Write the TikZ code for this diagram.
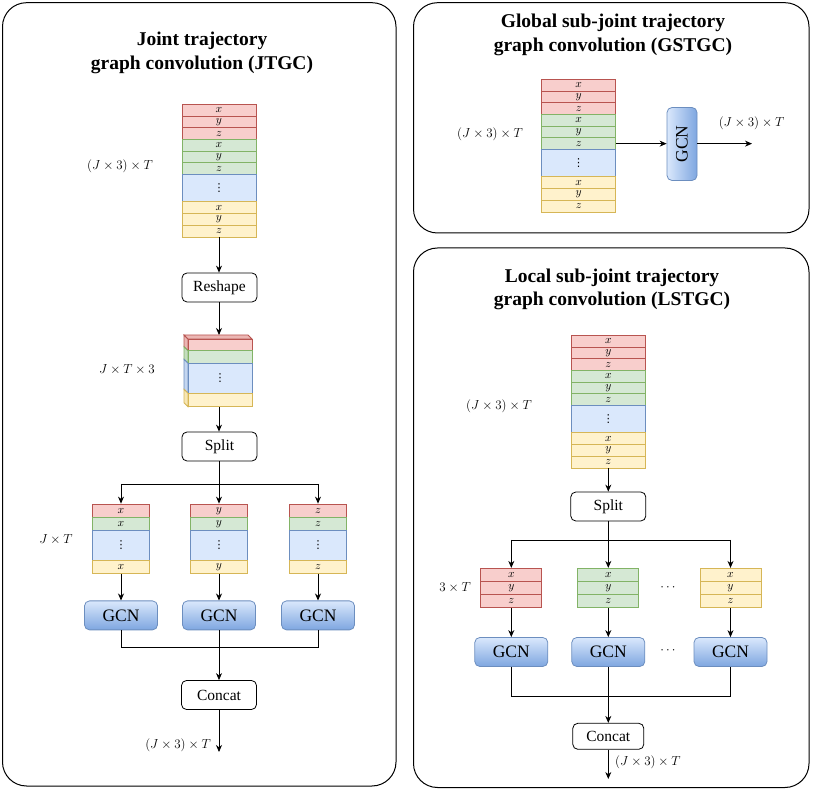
\RequirePackage{fix-cm}
\documentclass[tikz,border=0pt]{standalone}
\usepackage[no-math]{fontspec}
\setmainfont{Liberation Serif}
\newfontfamily\dejavu{DejaVu Sans}
\usetikzlibrary{arrows.meta,calc}
\definecolor{rf}{HTML}{F8CECC}\definecolor{rs}{HTML}{B85450}
\definecolor{gf}{HTML}{D5E8D4}\definecolor{gs}{HTML}{82B366}
\definecolor{bf}{HTML}{DAE8FC}\definecolor{bs}{HTML}{6C8EBF}
\definecolor{yf}{HTML}{FFF2CC}\definecolor{ys}{HTML}{D6B656}
\definecolor{gcnb}{HTML}{7EA6E0}
\colorlet{rside}{rf!80!rs}\colorlet{gside}{gf!80!gs}
\colorlet{bside}{bf!80!bs}\colorlet{yside}{yf!80!ys}
\newcommand\vdts{{\dejavu\fontsize{11}{11}\selectfont ⋮}}
\tikzset{
  x=1pt,y=-1pt,
  cell/.style={rectangle,inner sep=0pt,line width=0.8pt,font=\fontsize{11.5}{11.5}\selectfont},
  cr/.style={cell,draw=rs,fill=rf},
  cg/.style={cell,draw=gs,fill=gf},
  cb/.style={cell,draw=bs,fill=bf},
  cy/.style={cell,draw=ys,fill=yf},
  opbox/.style={draw,rounded corners=5pt,minimum width=75pt,minimum height=29pt,inner sep=0pt,font=\fontsize{15.5}{15.5}\selectfont,line width=0.8pt},
  gcnbox/.style={draw=bs,rounded corners=5pt,top color=bf,bottom color=gcnb,minimum width=73pt,minimum height=29pt,inner sep=0pt,font=\fontsize{17.5}{17.5}\selectfont,line width=0.8pt},
  arr/.style={-{Stealth[length=7pt,width=6pt]},line width=0.8pt},
  ln/.style={line width=0.8pt},
  panel/.style={draw,rounded corners=24pt,line width=1pt},
  ttl/.style={font=\fontsize{19.5}{23.5}\selectfont\bfseries,align=center},
  dim/.style={font=\fontsize{13}{13}\selectfont,inner sep=0pt},
}
% big stack: prefix, cx, top
\newcommand\bigstack[3]{%
  \node[cr,minimum width=74pt,minimum height=11.7pt] (#1-1) at (#2,{#3+5.85}) {$x$};
  \node[cr,minimum width=74pt,minimum height=11.7pt] (#1-2) at (#2,{#3+17.55}) {$y$};
  \node[cr,minimum width=74pt,minimum height=11.7pt] (#1-3) at (#2,{#3+29.25}) {$z$};
  \node[cg,minimum width=74pt,minimum height=11.7pt] (#1-4) at (#2,{#3+40.95}) {$x$};
  \node[cg,minimum width=74pt,minimum height=11.7pt] (#1-5) at (#2,{#3+52.65}) {$y$};
  \node[cg,minimum width=74pt,minimum height=11.7pt] (#1-6) at (#2,{#3+64.35}) {$z$};
  \node[cb,minimum width=74pt,minimum height=27.4pt] (#1-7) at (#2,{#3+83.9}) {\vdts};
  \node[cy,minimum width=74pt,minimum height=11.7pt] (#1-8) at (#2,{#3+103.45}) {$x$};
  \node[cy,minimum width=74pt,minimum height=11.7pt] (#1-9) at (#2,{#3+115.15}) {$y$};
  \node[cy,minimum width=74pt,minimum height=11.7pt] (#1-10) at (#2,{#3+126.85}) {$z$};
}
% column stack: prefix, cx, letter
\newcommand\colstack[3]{%
  \node[cr,minimum width=57.4pt,minimum height=13.3pt] (#1-1) at (#2,510.65) {$#3$};
  \node[cg,minimum width=57.4pt,minimum height=13.4pt] (#1-2) at (#2,524) {$#3$};
  \node[cb,minimum width=57.4pt,minimum height=29.3pt] (#1-3) at (#2,545.35) {\vdts};
  \node[cy,minimum width=57.4pt,minimum height=13.3pt] (#1-4) at (#2,566.65) {$#3$};
}
% small stack: prefix, cx, style
\newcommand\smstack[3]{%
  \node[#3,minimum width=61pt,minimum height=13.1pt] (#1-1) at (#2,574.85) {$x$};
  \node[#3,minimum width=61pt,minimum height=13.1pt] (#1-2) at (#2,587.95) {$y$};
  \node[#3,minimum width=61pt,minimum height=13.1pt] (#1-3) at (#2,601.05) {$z$};
}
% cube slab side: fill, stroke, side, top, bottom
\newcommand\slab[5]{%
  \filldraw[fill=#3,draw=#2,line width=0.8pt] (184,{#4-4}) -- (188,#4) -- (188,#5) -- (184,{#5-4}) -- cycle;
}
\begin{document}
\begin{tikzpicture}
\useasboundingbox (0,0) rectangle (831,791);
% panels
\draw[panel] (2.5,2.7) rectangle (396,786);
\draw[panel] (413.5,2.7) rectangle (809,233);
\draw[panel] (413.5,248) rectangle (809,787.5);
% titles
\node[ttl] (t1) at (202,53) {Joint trajectory\\graph convolution (JTGC)};
\node[ttl] (t2) at (613,35) {Global sub-joint trajectory\\graph convolution (GSTGC)};
\node[ttl] (t3) at (612,289.5) {Local sub-joint trajectory\\graph convolution (LSTGC)};

% ===== JTGC =====
\bigstack{L}{219}{104.3}
\node[dim] (Ldim) at (120,166) {$(J\times3)\times T$};
\node[opbox] (resh) at (219.5,287.5) {Reshape};
\draw[arr] (L-10.south) -- (L-10.south |- resh.north);
% cube
\slab{rf}{rs}{rside}{339}{350.7}
\slab{gf}{gs}{gside}{350.7}{363.3}
\slab{bf}{bs}{bside}{363.3}{393.3}
\slab{yf}{ys}{yside}{393.3}{406.7}
\filldraw[fill=rside,draw=rs,line width=0.8pt] (184,335) -- (248,335) -- (252,339) -- (188,339) -- cycle;
\node[cr,minimum width=64pt,minimum height=11.7pt] (C1) at (220,344.85) {};
\node[cg,minimum width=64pt,minimum height=12.6pt] (C2) at (220,357) {};
\node[cb,minimum width=64pt,minimum height=30pt] (C3) at (220,378.3) {\vdts};
\node[cy,minimum width=64pt,minimum height=13.4pt] (C4) at (220,400) {};
\coordinate (ctop) at (219,335);
\draw[arr] (resh.south -| ctop) -- (ctop);
\node[dim] (Cdim) at (127,370) {$J\times T\times 3$};
\node[opbox] (splitL) at (219.5,446.5) {Split};
\draw[arr] (C4.south -| ctop) -- (splitL.north -| ctop);
% branches
\coordinate (Lb1) at (121,484);
\coordinate (Lb2) at (219,484);
\coordinate (Lb3) at (318,484);
\draw[ln] (splitL.south -| Lb2) -- (Lb2);
\draw[ln] (Lb1) -- (Lb3);
\colstack{X}{121}{x}
\colstack{Y}{219}{y}
\colstack{Z}{318}{z}
\draw[arr] (Lb1) -- (X-1.north);
\draw[arr] (Lb2) -- (Y-1.north);
\draw[arr] (Lb3) -- (Z-1.north);
\node[dim] (XYdim) at (56,540) {$J\times T$};
\node[gcnbox] (G1) at (121,615.4) {GCN};
\node[gcnbox] (G2) at (219,615.4) {GCN};
\node[gcnbox] (G3) at (318,615.4) {GCN};
\draw[arr] (X-4.south) -- (G1.north);
\draw[arr] (Y-4.south) -- (G2.north);
\draw[arr] (Z-4.south) -- (G3.north);
\coordinate (Lm1) at (121,647);
\coordinate (Lm2) at (219,647);
\coordinate (Lm3) at (318,647);
\draw[ln] (G1.south) -- (Lm1) -- (Lm3) -- (G3.south);
\draw[ln] (G2.south) -- (Lm2);
\node[opbox] (concatL) at (219,695) {Concat};
\draw[arr] (Lm2) -- (concatL.north);
\coordinate (Lout) at (219,752);
\draw[arr] (concatL.south) -- (Lout);
\node[dim,anchor=east] (Loutdim) at (211,745) {$(J\times3)\times T$};

% ===== GSTGC =====
\bigstack{G}{578.7}{79.3}
\node[dim] (Gdim) at (490,134) {$(J\times3)\times T$};
\node[draw=bs,rounded corners=5pt,left color=bf,right color=gcnb,minimum width=30pt,minimum height=73pt,inner sep=0pt,font=\fontsize{17.5}{17.5}\selectfont,line width=0.8pt] (GG) at (682,144) {\rotatebox{90}{GCN}};
\draw[arr] (G-6.east) -- (G-6.east -| GG.west);
\coordinate (Gout) at (752,143.65);
\draw[arr] (GG.east |- Gout) -- (Gout);
\node[dim] (Goutdim) at (751.5,123) {$(J\times3)\times T$};

% ===== LSTGC =====
\bigstack{S}{608.3}{335.3}
\node[dim] (Sdim) at (499,406.5) {$(J\times3)\times T$};
\node[opbox] (splitR) at (608.3,506.5) {Split};
\draw[arr] (S-10.south) -- (splitR.north);
\coordinate (Rb1) at (511.3,540);
\coordinate (Rb2) at (608.3,540);
\coordinate (Rb3) at (730.5,540);
\draw[ln] (splitR.south) -- (Rb2);
\draw[ln] (Rb1) -- (Rb3);
\smstack{P}{511.3}{cr}
\smstack{Q}{608.3}{cg}
\smstack{R}{730.5}{cy}
\draw[arr] (Rb1) -- (P-1.north);
\draw[arr] (Rb2) -- (Q-1.north);
\draw[arr] (Rb3) -- (R-1.north);
\node[dim] (dots1) at (668,588) {$\cdots$};
\node[dim] (Pdim) at (455,588) {$3\times T$};
\node[gcnbox] (H1) at (511.3,652) {GCN};
\node[gcnbox] (H2) at (608.3,652) {GCN};
\node[gcnbox] (H3) at (730.5,652) {GCN};
\node[dim] (dots2) at (668,651) {$\cdots$};
\draw[arr] (P-3.south) -- (H1.north);
\draw[arr] (Q-3.south) -- (H2.north);
\draw[arr] (R-3.south) -- (H3.north);
\coordinate (Rm1) at (511.3,696);
\coordinate (Rm2) at (608.3,696);
\coordinate (Rm3) at (730.5,696);
\draw[ln] (H1.south) -- (Rm1) -- (Rm3) -- (H3.south);
\draw[ln] (H2.south) -- (Rm2);
\node[opbox,minimum width=71pt,minimum height=26pt] (concatR) at (608.3,736.3) {Concat};
\draw[arr] (Rm2) -- (concatR.north);
\coordinate (Rout) at (608.3,779);
\draw[arr] (concatR.south) -- (Rout);
\node[dim,anchor=west] (Routdim) at (615,762) {$(J\times3)\times T$};
\end{tikzpicture}
\end{document}
